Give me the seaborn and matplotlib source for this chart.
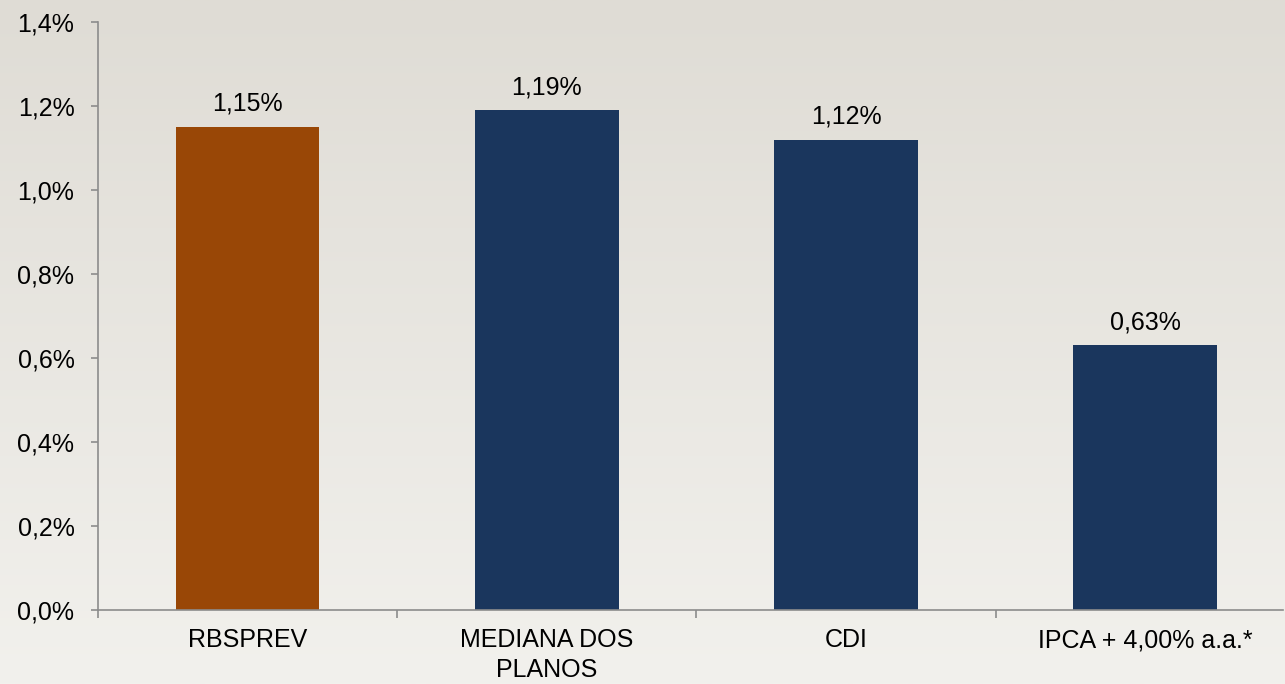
import numpy as np
import seaborn as sns
import matplotlib.pyplot as plt
from matplotlib.ticker import FuncFormatter, FixedLocator

categories = ["RBSPREV", "MEDIANA DOS\nPLANOS", "CDI", "IPCA + 4,00% a.a.*"]
values = [1.15, 1.19, 1.12, 0.63]
bar_colors = ["#994706", "#1a365d", "#1a365d", "#1a365d"]

sns.set_style("white")
plt.rcParams["font.family"] = ["Liberation Sans", "DejaVu Sans"]
plt.rcParams["text.color"] = "black"

fig = plt.figure(figsize=(12.85, 6.84), dpi=100)

# background gradient
bg = fig.add_axes([0, 0, 1, 1], zorder=-10)
grad = np.linspace(0, 1, 256).reshape(-1, 1)
top = np.array([223, 220, 213]) / 255
bot = np.array([242, 241, 237]) / 255
img = top + (bot - top) * grad[:, :, None]
bg.imshow(img, aspect="auto", extent=[0, 1, 0, 1], origin="upper")
bg.axis("off")

ax = fig.add_axes([0.0763, 0.108, 0.922, 0.86])
ax.patch.set_alpha(0)
sns.barplot(x=categories, y=values, hue=categories, palette=bar_colors,
            width=0.48, legend=False, saturation=1, linewidth=0, ax=ax)

for c in ax.containers:
    ax.bar_label(c, labels=[f"{v:.2f}%".replace(".", ",") for v in c.datavalues],
                 padding=8, fontsize=18, color="black")

ax.set_ylim(0, 1.4)
ax.set_xlim(-0.5, 3.46)
ax.set_yticks(np.arange(0, 1.41, 0.2))
ax.yaxis.set_major_formatter(FuncFormatter(lambda v, p: f"{v:.1f}%".replace(".", ",")))
ax.xaxis.set_minor_locator(FixedLocator([-0.5, 0.5, 1.5, 2.5, 3.5]))
ax.tick_params(axis="x", which="major", bottom=True, length=0, pad=13,
               labelsize=18, labelcolor="black")
ax.tick_params(axis="x", which="minor", bottom=True, length=6, color="#8c8c8c", width=1.2)
ax.tick_params(axis="y", left=True, length=5, color="#8c8c8c", width=1.2,
               labelsize=18, labelcolor="black", pad=12)
for lbl in ax.get_xticklabels():
    lbl.set_linespacing(1.3)
ax.set_xlabel("")
ax.set_ylabel("")

for s in ["top", "right"]:
    ax.spines[s].set_visible(False)
for s in ["left", "bottom"]:
    ax.spines[s].set_color("#8c8c8c")
    ax.spines[s].set_linewidth(1.2)

fig.savefig("out.png", dpi=100)
